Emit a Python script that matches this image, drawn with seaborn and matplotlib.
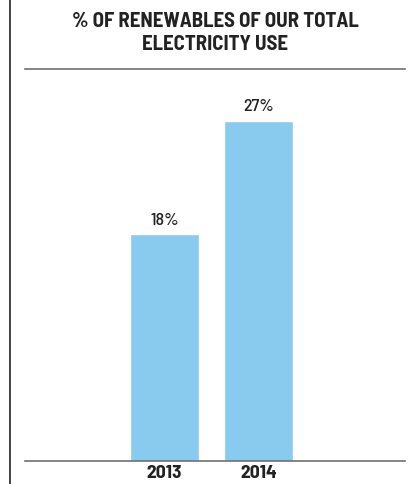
import matplotlib
matplotlib.use('Agg')
import matplotlib.pyplot as plt
import seaborn as sns
import pandas as pd
from matplotlib.lines import Line2D

years = ['2013', '2014']
share = [18, 27]
labels = ['18%', '27%']

sns.set_style('white')
plt.rcParams['font.family'] = ['Barlow Semi Condensed', 'Barlow Condensed', 'DejaVu Sans']

df = pd.DataFrame({'Year': years, 'Share': share})

fig = plt.figure(figsize=(4.12, 4.85), dpi=100)
ax = fig.add_axes([25 / 412, 23 / 485, 380 / 412, 392 / 485])

sns.barplot(data=df, x='Year', y='Share', color='#89cbee', saturation=1, width=0.734, ax=ax)

for i, (v, t) in enumerate(zip(share, labels)):
    ax.text(i, v + 0.6, t, ha='center', va='bottom', fontsize=13, fontweight=500, color='#222222')

ax.set_xlim(-1.484, 2.559)
ax.set_ylim(0, 31.13)
ax.set_xlabel('')
ax.set_ylabel('')
ax.set_yticks([])
ax.tick_params(axis='x', length=0, pad=2)
for lbl in ax.get_xticklabels():
    lbl.set_fontweight('bold')
    lbl.set_fontsize(14)
    lbl.set_color('#222222')

for side in ['left', 'right']:
    ax.spines[side].set_visible(False)
for side in ['top', 'bottom']:
    ax.spines[side].set_visible(True)
    ax.spines[side].set_color('#707070')
    ax.spines[side].set_linewidth(1.2)

# left frame line
fig.add_artist(Line2D([9.5 / 412, 9.5 / 412], [0, 1], color='#222222', lw=1.2, transform=fig.transFigure))

fig.text(215 / 412, 1 - 33 / 485, '% OF RENEWABLES OF OUR TOTAL\nELECTRICITY USE',
         ha='center', va='center', fontsize=15, fontweight='bold', color='#222222', linespacing=1.25)

fig.savefig('out.png', dpi=100)
